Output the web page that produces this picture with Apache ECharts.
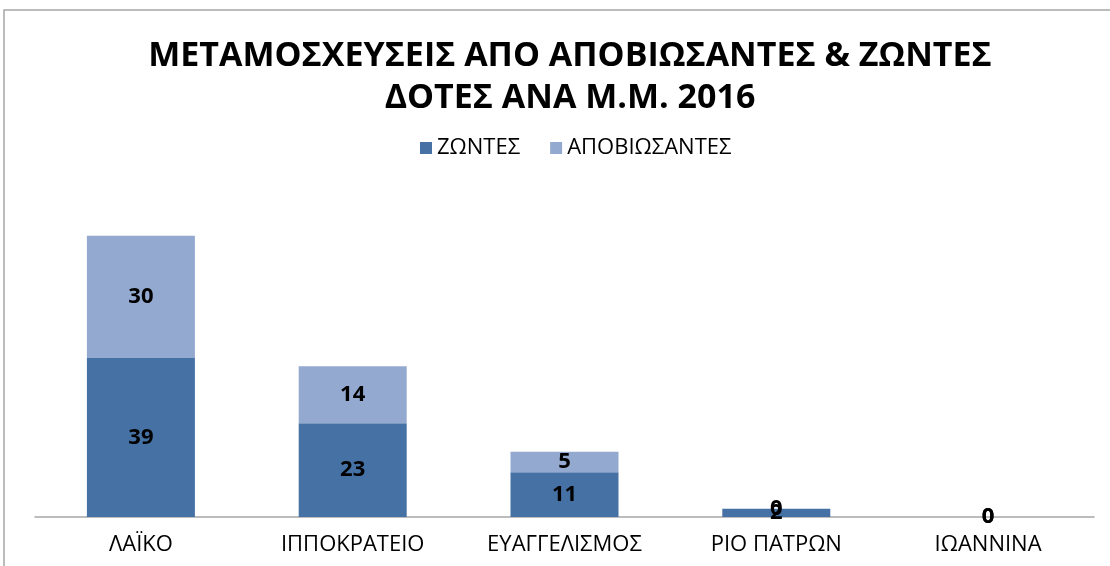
<!DOCTYPE html>
<html>
<head>
<meta charset="utf-8">
<script src="https://cdn.jsdelivr.net/npm/echarts@6/dist/echarts.min.js"></script>
<style>
  html, body { margin: 0; padding: 0; background: #fff; }
  #chart { width: 1110px; height: 566px; }
</style>
</head>
<body>
<div id="chart"></div>
<script>
  const categories = ['ΛΑΪΚΟ', 'ΙΠΠΟΚΡΑΤΕΙΟ', 'ΕΥΑΓΓΕΛΙΣΜΟΣ', 'ΡΙΟ ΠΑΤΡΩΝ', 'ΙΩΑΝΝΙΝΑ']
  const zontes = [39, 23, 11, 2, 0]
  const apobiosantes = [30, 14, 5, 0, 0]

  const chart = echarts.init(document.getElementById('chart'))
  const labelStyle = {
    show: true,
    position: 'inside',
    color: '#000',
    fontWeight: 'bold',
    fontSize: 22,
    fontFamily: 'Open Sans'
  }
  chart.setOption({
    animation: false,
    backgroundColor: '#fff',
    graphic: [{
      type: 'rect',
      shape: { x: 4, y: 10, width: 1120, height: 570 },
      style: { fill: 'none', stroke: '#a6a6a6', lineWidth: 1.5 },
      silent: true
    }],
    title: {
      text: 'ΜΕΤΑΜΟΣΧΕΥΣΕΙΣ ΑΠΟ ΑΠΟΒΙΩΣΑΝΤΕΣ & ΖΩΝΤΕΣ\nΔΟΤΕΣ ΑΝΑ Μ.Μ. 2016',
      left: 565,
      textAlign: 'center',
      top: 30,
      textStyle: {
        fontFamily: 'Open Sans',
        fontWeight: 'bold',
        fontSize: 34,
        lineHeight: 42,
        color: '#000'
      }
    },
    legend: {
      top: 132,
      left: 415,
      itemWidth: 12,
      itemHeight: 12,
      itemGap: 30,
      icon: 'rect',
      textStyle: { fontFamily: 'Open Sans', fontSize: 22, color: '#000' },
      data: ['ΖΩΝΤΕΣ', 'ΑΠΟΒΙΩΣΑΝΤΕΣ']
    },
    grid: { left: 35, right: 16, top: 191, bottom: 49 },
    xAxis: {
      type: 'category',
      data: categories,
      axisLine: { lineStyle: { color: '#a6a6a6', width: 1.5 } },
      axisTick: { show: false },
      axisLabel: { color: '#000', fontFamily: 'Open Sans', fontSize: 22, margin: 17 }
    },
    yAxis: {
      type: 'value',
      min: 0,
      max: 80,
      show: false,
      splitLine: { show: false }
    },
    series: [
      {
        name: 'ΖΩΝΤΕΣ',
        type: 'bar',
        stack: 'total',
        barWidth: 108,
        itemStyle: { color: '#4671a5' },
        label: labelStyle,
        data: zontes
      },
      {
        name: 'ΑΠΟΒΙΩΣΑΝΤΕΣ',
        type: 'bar',
        stack: 'total',
        barWidth: 108,
        itemStyle: { color: '#93a9d0' },
        label: labelStyle,
        data: apobiosantes
      }
    ]
  })
</script>
</body>
</html>
